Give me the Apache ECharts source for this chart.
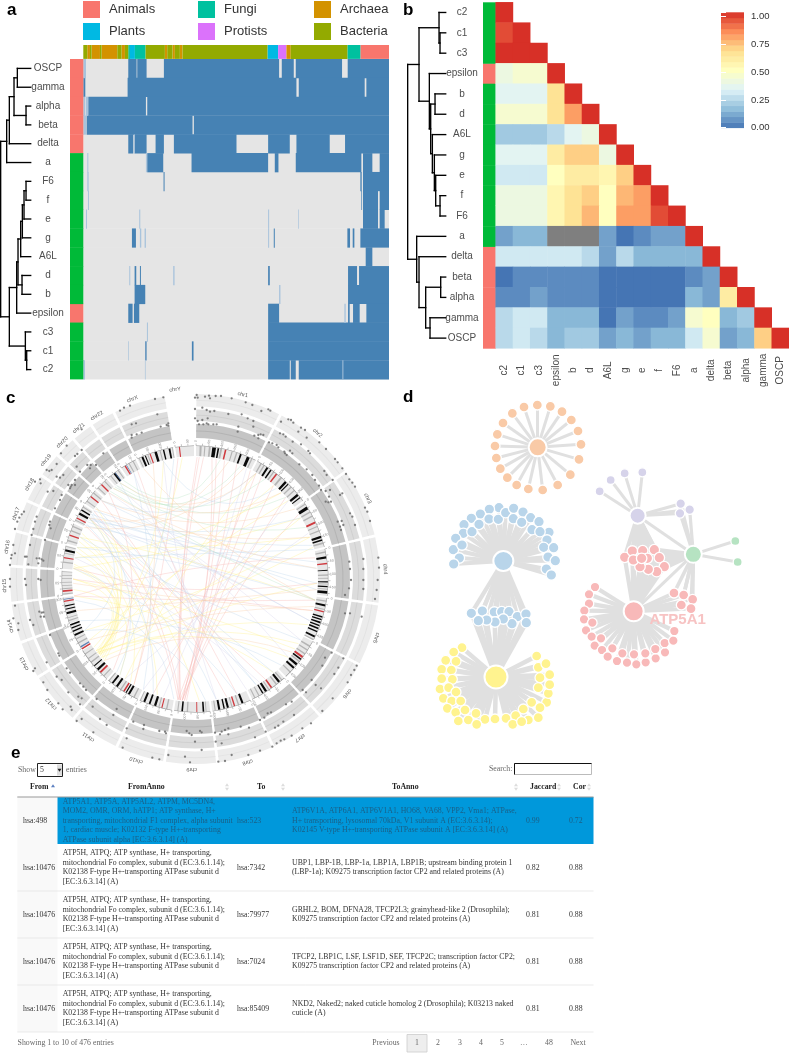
<!DOCTYPE html>
<html><head><meta charset="utf-8">
<style>html,body{margin:0;padding:0;background:#fff}#c{width:789px;height:1053px}</style>
<script src="https://cdn.jsdelivr.net/npm/echarts@6/dist/echarts.min.js"></script>
</head><body><div id="c"></div>
<script>
// ---------- panel a ----------
const taxa=['Animals','Plants','Fungi','Protists','Archaea','Bacteria'];
const taxaColors=['#F8766D','#00B9E3','#00C19F','#DB72FB','#D39200','#93AA00'];
const stripSegments=[[250,262,5],[262,270,4],[270,275,5],[275,300,4],[300,305,5],[305,352,4],[352,365,5],[365,375,4],[375,385,5],[385,390,2],[390,405,1],[405,437,2],[437,495,5],[495,502,4],[502,518,5],[518,525,4],[525,540,5],[540,548,4],[548,803,5],[803,835,1],[835,860,3],[860,873,4],[873,1043,5],[1043,1082,2],[1082,1168,0]];
const aRows=['OSCP','gamma','alpha','beta','delta','a','F6','f','e','g','A6L','d','b','epsilon','c3','c1','c2'];
const aRowGroup=[0,0,0,0,0,1,1,1,1,1,1,1,1,0,1,1,1];
const aPresent=[
[[385,410],[412,440],[492,838],[846,882],[888,1027],[1044,1168]],
[[250,256],[383,890],[897,1095],[1100,1168]],
[[265,438],[442,1168]],
[[260,578],[582,1168]],
[[385,400],[404,440],[467,492],[522,710],[805,870],[890,990],[1036,1168]],
[[442,490],[575,805],[825,836],[888,1085],[1090,1118],[1140,1168]],
[[491,494],[1082,1086],[1090,1168]],
[[1085,1087],[1090,1135],[1140,1168]],
[[1090,1135],[1140,1155]],
[[396,408],[822,825],[1043,1051],[1059,1064],[1082,1168]],
[[1098,1118]],
[[404,409],[420,423],[805,810],[1045,1072],[1078,1168]],
[[404,436],[1045,1168]],
[[385,398],[402,418],[805,838],[1045,1050],[1060,1080],[1100,1168]],
[[805,1168]],
[[436,440],[576,581],[805,1168]],
[[805,870],[873,888],[897,1168]]
];
const aFaint=[[0,250,258],[2,250,256],[2,258,264],[3,250,258],[4,402,404],[5,262,265],[5,438,441],[6,262,266],[7,264,267],[8,258,261],[8,418,421],[8,805,808],[8,895,897],[9,420,424],[9,434,438],[9,805,808],[11,388,391],[11,520,524],[12,838,842],[13,1034,1038],[14,441,444],[15,385,387],[16,250,255],[16,435,437],[16,1028,1031]];
const aTree=[2,[20,[28,[42,[52,0,1],[78,2,3]],4],5],[28,[50,[54,[62,[67,[72,[78,6,7],8],9],10],[66,11,12]],13],[76,14,[80,15,16]]]];
// ---------- panel b ----------
const bLabels=['c2','c1','c3','epsilon','b','d','A6L','g','e','f','F6','a','delta','beta','alpha','gamma','OSCP'];
const bGroup=[1,1,1,0,1,1,1,1,1,1,1,1,0,0,0,0,0];
const NA=-1;
const corrRows=[
[1],
[.93,1],
[.97,.97,1],
[.42,.44,.44,1],
[.38,.38,.38,.62,1],
[.45,.47,.47,.62,.78,1],
[.2,.2,.2,.28,.35,.42,1],
[.38,.38,.38,.6,.68,.7,.42,1],
[.33,.33,.33,.52,.58,.58,.55,.68,1],
[.4,.4,.4,.55,.62,.67,.52,.75,.78,1],
[.4,.4,.4,.55,.62,.72,.5,.78,.78,.92,1],
[.14,.17,.17,NA,NA,NA,.13,.03,.08,.1,.1,1],
[.32,.33,.3,.33,.33,.28,.13,.25,.17,.19,.19,.15,1],
[.04,.06,.06,.06,.07,.05,.01,.01,.03,.03,.03,.09,.1,1],
[.07,.08,.1,.05,.06,.06,.01,.01,.02,.03,.03,.15,.1,.58,1],
[.27,.3,.29,.17,.15,.15,.02,.12,.08,.09,.1,.45,.52,.17,.22,1],
[.26,.29,.26,.18,.2,.2,.1,.17,.14,.17,.17,.33,.45,.1,.15,.68,1]
];
const bTree=[38,[72,[132,0,[135,1,2]],[103,3,[107,[120,4,5],[112,6,[118,7,[122,8,[135,9,10]]]]]]],[65,11,[72,12,[92,[137,13,14],[105,15,16]]]]];
const groupColors=['#F8766D','#00BA38'];
const rampStops=['#4575B4','#91BFDB','#E0F3F8','#FFFFBF','#FEE090','#FC8D59','#D73027'];
// ---------- panel c ----------
const chrNames=['chr1','chr2','chr3','chr4','chr5','chr6','chr7','chr8','chr9','chr10','chr11','chr12','chr13','chr14','chr15','chr16','chr17','chr18','chr19','chr20','chr21','chr22','chrX','chrY'];
const chrBreaks=[0,27.5,54.5,76.5,97.8,117.5,137.5,155,173,189.5,205,221,238,250,262.5,274,285,295,304,312,319,326,334,351,360];
const chrLabelDeg=[14.5,40,65,87,108,127,146.6,164,181,198,214,229,243.6,255.7,268,279.7,290,299.7,308.5,315.8,322.4,329,340.8,354];
const bandBlack=[[7.5,1.6],[9.8,.7],[19.8,.8],[23,1.3],[32.6,.9],[34.5,.7],[42.6,1],[44.2,.5],[50.2,1],[52,.5],[57,1.4],[71,1],[72.6,.7],[80.2,.9],[86,.4],[91,.5],[93,.6],[95.2,1.2],[101,.9],[106.3,.6],[107.5,.6],[108.8,.7],[110.2,.6],[111.5,.7],[113,.6],[115.3,.8],[126.8,.7],[129.5,1],[131.5,.9],[140.2,1],[147.2,1],[149,.6],[158.6,.9],[165.2,.9],[167,.6],[169,.9],[176,.7],[185.2,.7],[197,1],[199.6,.8],[202,.9],[209.4,.9],[211,.5],[215.6,.9],[218,.8],[226.6,1],[229,.5],[244.6,.8],[246.5,.6],[248,.6],[249.4,.7],[254.6,.9],[256.6,.5],[258,.5],[282,.9],[299,1],[301,.6],[322.2,1],[336.2,.9],[337.8,.5],[342.2,1.1],[346,.6],[348.5,.8]];
const bandRed=[[13,.7],[37.5,.7],[64.4,.8],[83,.6],[104,.6],[125.5,.9],[144.5,.7],[162.4,.6],[179,.4],[194.2,.5],[212,.7],[225,.8],[238,.6],[260,.6],[264.4,.7],[279,.5],[289,.6],[297,.6],[308,.6],[315,.6],[328,.6],[340,.5],[353,.5]];
const bandBlue=[[239,.6],[261,.3],[328.8,.3],[322.9,.3]];
const bandGray=[[2,.9],[4,.5],[6,.8],[11,.8],[16,.5],[18,.6],[25,.6],[29.5,.6],[31,.6],[36,.6],[40,.8],[46,.6],[48,.6],[55.5,.5],[59.5,.6],[61.5,.6],[66.5,.5],[68.5,.6],[74,.7],[78,.6],[88,.6],[89.5,.4],[92,.4],[94.2,.4],[99.3,.6],[103,.5],[116.8,.6],[120,.7],[122,.6],[124,.6],[128,.6],[134,.6],[139,.6],[142,.6],[146,.5],[151,.5],[153,.5],[160.6,.6],[163.6,.5],[171,.5],[175,.4],[183,.6],[187.2,.5],[192,.6],[195.5,.5],[204,.4],[207,.6],[213.6,.6],[220,.5],[223,.5],[231,.6],[233,.5],[235.4,.5],[241,.6],[243,.5],[251.5,.5],[252.8,.4],[263.2,.5],[265.6,.4],[267,.3],[268.4,.3],[270,.3],[271.4,.3],[273,.3],[277,.6],[281,.4],[284,.4],[286.5,.7],[291,.6],[293,.6],[296,.4],[302.5,.5],[305.5,.5],[310,.6],[313,.5],[317,.5],[320.5,.5],[324.5,.5],[330,.5],[332,.5],[335,.4],[339,.4],[344.5,.5],[350,.4]];
// points read in crop units of the four quadrants of the circular plot
const ptsNE=[[5,30],[0,38],[8,38],[30,35],[42,32],[45,40],[62,33],[78,33],[110,40],[152,52],[172,60],[199,78],[220,73],[226,77],[22,68],[35,75],[45,80],[58,78],[100,87],[140,88],[158,100],[175,108],[0,72],[0,100],[8,108],[22,105],[38,100],[35,115],[12,118],[25,118],[40,118],[55,118],[65,118],[130,125],[128,140],[175,125],[190,150],[190,160],[197,148],[205,150],[178,152],[258,110],[280,103],[288,105],[295,113],[318,128],[310,140],[330,135],[373,172],[393,192],[420,222],[428,232],[442,250],[335,158],[255,145],[265,148],[272,155],[293,170],[318,178],[340,198],[285,197],[292,205],[270,205],[345,205],[388,258],[395,270],[413,285],[222,172],[232,175],[245,180],[250,187],[268,200],[275,210],[313,238],[335,253],[352,270],[360,285],[372,302],[453,267],[463,283],[472,293],[480,305],[510,368],[517,380],[525,408],[378,315],[392,318],[405,315],[402,335],[392,350],[400,352],[408,350],[435,330],[442,325],[465,385],[472,395],[480,420],[428,410],[440,408],[435,425],[438,435],[445,420],[550,518],[552,548],[505,522],[505,552],[463,530],[465,552]];
const ptsSE=[[468,15],[462,40],[450,60],[505,15],[505,42],[548,15],[545,45],[540,72],[450,115],[465,115],[500,125],[410,233],[390,248],[445,250],[382,272],[485,272],[478,285],[430,278],[418,297],[468,300],[458,322],[350,315],[362,330],[378,340],[323,345],[333,352],[413,370],[382,408],[290,380],[273,388],[297,420],[265,440],[250,452],[240,458],[228,412],[218,415],[208,428],[195,435],[212,470],[348,445],[322,460],[290,482],[268,493],[257,497],[245,505],[232,515],[90,465],[80,470],[60,473],[100,478],[75,478],[100,460],[137,455],[162,458],[180,487],[62,500],[80,505],[110,540],[90,558],[70,560],[195,527],[160,540],[15,468],[20,472],[0,500],[20,525]];
const ptsSW=[[30,12],[30,35],[75,12],[78,30],[115,12],[122,15],[45,92],[40,130],[55,145],[55,165],[90,135],[100,150],[118,110],[130,112],[122,125],[132,125],[125,113],[150,180],[175,235],[178,242],[140,262],[105,280],[100,288],[200,280],[210,293],[170,305],[185,315],[130,322],[142,345],[175,385],[188,403],[240,325],[250,335],[258,345],[205,352],[235,365],[245,370],[212,395],[215,405],[240,388],[230,438],[245,432],[290,372],[278,395],[350,402],[300,432],[320,450],[280,472],[368,518],[340,420],[400,440],[432,450],[380,460],[430,462],[478,468],[495,470],[498,475],[380,490],[457,548],[478,553],[560,468],[568,475],[575,480],[505,540],[555,545],[570,562]];
const ptsNW=[[465,42],[490,37],[360,77],[372,68],[390,62],[395,118],[408,115],[472,88],[505,115],[500,120],[482,125],[395,150],[395,158],[410,148],[425,143],[505,122],[245,133],[232,207],[245,195],[230,245],[262,240],[272,240],[288,240],[270,250],[310,205],[200,182],[183,205],[225,213],[205,300],[210,310],[225,285],[225,300],[215,300],[240,260],[170,237],[140,255],[148,258],[155,255],[170,275],[180,278],[190,270],[212,305],[105,290],[120,283],[122,295],[143,320],[160,318],[185,330],[180,345],[165,370],[72,380],[65,388],[58,398],[52,410],[45,432],[110,395],[105,410],[100,432],[150,410],[148,420],[152,430],[135,465],[40,480],[35,510],[33,520],[45,505],[95,450],[90,480],[80,515],[75,515],[85,538],[110,520],[118,520],[125,523],[115,535],[130,527],[30,540]];
// chords: start angle, end angle, module
const chordColors=['#f6b3b0','#fff08a','#bcd6ea','#b5e2c0','#f8cda6','#d6d3ea'];
const chordList=[[187,1,0],[187,4,0],[186,10,0],[186,14,0],[185,20,0],[185,27,0],[188,33,0],[187,40,0],[186,48,0],[188,296,0],[187,304,0],[186,58,0],[184,8,0],[188,2,0],[160,332,0],[145,300,0],[165,310,0],[200,30,0],[210,352,0],[222,315,0],[262,100,0],[275,105,0],[262,80,0],[270,92,0],
[232,354,1],[232,345,1],[233,306,1],[231,276,1],[234,60,1],[232,92,1],[230,112,1],[233,122,1],[228,277,1],[230,283,1],[232,292,1],[234,270,1],[236,265,1],[231,300,1],[233,130,1],[234,75,1],[229,288,1],[233,40,1],[218,275,1],[212,285,1],[198,290,1],[178,300,1],[140,262,1],[125,270,1],[100,290,1],[60,275,1],[45,280,1],[70,285,1],[215,30,1],[240,50,1],[245,70,1],
[300,82,2],[302,92,2],[298,110,2],[301,140,2],[303,170,2],[297,200,2],[304,74,2],[299,60,2],[302,218,2],[306,150,2],[310,95,2],[296,85,2],[290,120,2],[285,100,2],[280,76,2],[275,160,2],[260,190,2],[250,135,2],[245,175,2],[310,30,2],[345,42,2],[350,220,2],[322,150,2],[330,205,2],[300,245,2],
[318,22,3],[320,35,3],[322,48,3],[319,65,3],[324,12,3],[316,100,3],
[322,30,4],[318,45,4],[310,55,4],[335,100,4],[305,70,4],[300,16,4],[315,85,4],[295,24,4],[340,210,4],[268,105,4],[255,95,4],[240,103,4],[228,127,4],
[25,195,5],[50,205,5],[68,215,5],[110,300,5],[120,315,5],[130,320,5],[155,330,5],[148,280,5],[170,345,5]];
// ---------- panel d: nodes in crop units ----------
const orangeHub=[413,187];
const orangeLeaves=[[412,60],[451,64],[486,80],[514,105],[534,138],[543,178],[537,223],[511,269],[473,300],[428,315],[385,312],[350,300],[322,278],[301,251],[289,219],[285,183],[292,148],[309,114],[337,85],[372,66]];
const blueHub=[310,528];
const blueLeaves=[[297,368],[268,373],[241,387],[214,400],[192,419],[190,445],[167,460],[160,494],[186,480],[178,519],[161,537],[216,440],[237,418],[267,402],[295,403],[317,383],[341,370],[369,381],[340,401],[392,398],[417,410],[365,412],[396,434],[447,442],[420,440],[441,465],[431,487],[461,488],[444,516],[466,527],[439,552],[454,570]];
const blueShared=[[214,685],[247,678],[283,681],[305,680],[327,680],[352,695],[378,687],[379,713],[336,716],[310,702],[285,711],[260,705],[235,707]];
const yellowHub=[288,876];
const yellowLeaves=[[186,788],[161,801],[137,826],[168,829],[125,853],[154,855],[125,881],[157,883],[120,912],[146,908],[168,921],[130,940],[155,948],[182,948],[142,970],[167,982],[195,975],[175,1008],[205,1005],[228,985],[255,1003],[285,1002],[318,1000],[347,992],[370,972],[395,952],[415,998],[385,1005],[440,952],[420,968],[445,925],[415,908],[449,899],[420,878],[449,869],[415,847],[438,836],[410,813],[230,1018],[338,1018],[365,1010]];
const purpleHub=[713,392];
const purpleLeaves=[[599,319],[632,285],[674,265],[727,262]];
const purpleShared=[[842,356],[869,374],[840,385]];
const greenHub=[880,508];
const greenLeaves=[[1006,468],[1013,531]];
const redHub=[701,679];
const redMiddle=[[674,517],[697,498],[728,497],[763,494],[778,518],[793,545],[770,560],[742,520],[745,553],[720,545],[700,525],[725,520]];
const redRight=[[822,624],[851,630],[878,643],[844,660],[873,671]];
const redLeaves=[[585,606],[567,628],[567,656],[553,677],[552,703],[577,713],[558,736],[575,755],[603,760],[584,782],[606,795],[637,790],[623,815],[651,828],[667,805],[681,833],[702,808],[709,838],[737,832],[736,805],[767,820],[766,792],[795,802],[794,774],[820,767],[823,738]];
// ---------- panel e ----------
const tableHead=['From','FromAnno','To','ToAnno','Jaccard','Cor'];
const tableRows=[
{from:'hsa:498',fromAnno:['ATP5A1, ATP5A, ATP5AL2, ATPM, MC5DN4,','MOM2, OMR, ORM, hATP1; ATP synthase, H+','transporting, mitochondrial F1 complex, alpha subunit','1, cardiac muscle; K02132 F-type H+-transporting','ATPase subunit alpha [EC:3.6.3.14] (A)'],to:'hsa:523',toAnno:['ATP6V1A, ATP6A1, ATP6V1A1, HO68, VA68, VPP2, Vma1; ATPase,','H+ transporting, lysosomal 70kDa, V1 subunit A (EC:3.6.3.14);','K02145 V-type H+-transporting ATPase subunit A [EC:3.6.3.14] (A)'],jac:'0.99',cor:'0.72'},
{from:'hsa:10476',fromAnno:['ATP5H, ATPQ; ATP synthase, H+ transporting,','mitochondrial Fo complex, subunit d (EC:3.6.1.14);','K02138 F-type H+-transporting ATPase subunit d','[EC:3.6.3.14] (A)'],to:'hsa:7342',toAnno:['UBP1, LBP-1B, LBP-1a, LBP1A, LBP1B; upstream binding protein 1','(LBP-1a); K09275 transcription factor CP2 and related proteins (A)'],jac:'0.82',cor:'0.88'},
{from:'hsa:10476',fromAnno:['ATP5H, ATPQ; ATP synthase, H+ transporting,','mitochondrial Fo complex, subunit d (EC:3.6.1.14);','K02138 F-type H+-transporting ATPase subunit d','[EC:3.6.3.14] (A)'],to:'hsa:79977',toAnno:['GRHL2, BOM, DFNA28, TFCP2L3; grainyhead-like 2 (Drosophila);','K09275 transcription factor CP2 and related proteins (A)'],jac:'0.81',cor:'0.88'},
{from:'hsa:10476',fromAnno:['ATP5H, ATPQ; ATP synthase, H+ transporting,','mitochondrial Fo complex, subunit d (EC:3.6.1.14);','K02138 F-type H+-transporting ATPase subunit d','[EC:3.6.3.14] (A)'],to:'hsa:7024',toAnno:['TFCP2, LBP1C, LSF, LSF1D, SEF, TFCP2C; transcription factor CP2;','K09275 transcription factor CP2 and related proteins (A)'],jac:'0.81',cor:'0.88'},
{from:'hsa:10476',fromAnno:['ATP5H, ATPQ; ATP synthase, H+ transporting,','mitochondrial Fo complex, subunit d (EC:3.6.1.14);','K02138 F-type H+-transporting ATPase subunit d','[EC:3.6.3.14] (A)'],to:'hsa:85409',toAnno:['NKD2, Naked2; naked cuticle homolog 2 (Drosophila); K03213 naked','cuticle (A)'],jac:'0.81',cor:'0.88'}
];
const pagerLabels=['Previous','1','2','3','4','5','…','48','Next'];

// ---------- helpers ----------
const SANS='"Liberation Sans",Arial,sans-serif', SERIF='"Liberation Serif","Times New Roman",serif';
const chart=echarts.init(document.getElementById('c'),null,{renderer:'canvas'});
const grids=[],xAxes=[],yAxes=[],series=[];
function addGrid(g,x,y){const i=grids.length;grids.push(Object.assign({containLabel:false},g));
  xAxes.push(Object.assign({gridIndex:i,show:false,type:'value'},x));
  yAxes.push(Object.assign({gridIndex:i,show:false,type:'value'},y));return i;}
const hiddenCat=d=>({type:'category',data:d,inverse:true,show:false});
function runRender(color){return (p,api)=>{
  const a=api.coord([api.value(1),api.value(0)]),b=api.coord([api.value(2),api.value(0)]),h=api.size([0,1])[1];
  return {type:'rect',shape:{x:a[0],y:a[1]-h/2,width:b[0]-a[0],height:h+.4},style:{fill:color}};};}
function runSeries(gi,data,color,name,z){return {type:'custom',name,xAxisIndex:gi,yAxisIndex:gi,data,silent:true,z:z||2,
  encode:{x:[1,2],y:0},renderItem:runRender(color),itemStyle:{color},animation:false};}
function treeSegments(node,leafH,out){
  if(typeof node==='number')return {y:node,h:leafH};
  const l=treeSegments(node[1],leafH,out),r=treeSegments(node[2],leafH,out),h=node[0];
  out.push([h,l.y,h,r.y],[h,l.y,l.h,l.y],[h,r.y,r.h,r.y]);
  return {y:(l.y+r.y)/2,h};
}
function lineRender(color,w){return (p,api)=>{
  const a=api.coord([api.value(0),api.value(1)]),b=api.coord([api.value(2),api.value(3)]);
  return {type:'line',shape:{x1:a[0],y1:a[1],x2:b[0],y2:b[1]},style:{stroke:color,lineWidth:w,lineCap:'square'}};};}
function dendro(gi,tree,leafH){const s=[];treeSegments(tree,leafH,s);
  series.push({type:'custom',xAxisIndex:gi,yAxisIndex:gi,data:s,silent:true,encode:{x:[0,2],y:[1,3]},renderItem:lineRender('#000',1.35)});}

// ---------- panel a grids ----------
const gA=addGrid({left:70,top:59,width:319,height:320},{min:210,max:1168},
 {type:'category',data:aRows,inverse:true,show:true,axisLine:{show:false},axisTick:{show:false},
  axisLabel:{align:'center',margin:22,fontSize:10,fontFamily:SANS,color:'#4d4d4d'}});
series.push(runSeries(gA,aRows.map((_,i)=>[i,250,1168]),'#E5E5E5','bg',1));
series.push(runSeries(gA,aRows.flatMap((_,i)=>aPresent[i].map(r=>[i,r[0],r[1]])),'#4682B4','present',3));
series.push(runSeries(gA,aFaint,'#a8c3dc','faint',4));
groupColors.forEach((c,k)=>series.push(runSeries(gA,aRows.map((_,i)=>[i,210,250,aRowGroup[i]]).filter(d=>d[3]===k),c,'grp'+k,5)));
const gStrip=addGrid({left:83.3,top:45,width:305.7,height:13.5},{min:250,max:1168},hiddenCat(['taxon']));
taxa.forEach((t,k)=>series.push(runSeries(gStrip,stripSegments.filter(s=>s[2]===k).map(s=>[0,s[0],s[1]]),taxaColors[k],t,2)));
const gDA=addGrid({left:0,top:59,width:30.7,height:320},{min:0,max:92},{min:-.5,max:16.5,inverse:true});
dendro(gDA,aTree,92);

// ---------- panel b grids ----------
const bTop=2.3,bH=346;
const gBS=addGrid({left:483,top:bTop,width:12.9,height:bH},{min:0,max:1},
 {type:'category',data:bLabels,inverse:true,show:true,axisLine:{show:false},axisTick:{show:false},
  axisLabel:{align:'center',margin:21,fontSize:10,fontFamily:SANS,color:'#4d4d4d'}});
groupColors.forEach((c,k)=>series.push(runSeries(gBS,bLabels.map((_,i)=>[i,0,1,bGroup[i]]).filter(d=>d[3]===k),c,'bgrp'+k,2)));
const gBM=addGrid({left:495.7,top:bTop,width:293.3,height:bH},
 {type:'category',data:bLabels,show:true,axisLine:{show:false},axisTick:{show:false},
  axisLabel:{rotate:90,align:'center',verticalAlign:'middle',margin:22,fontSize:10,fontFamily:SANS,color:'#4d4d4d',interval:0}},
 hiddenCat(bLabels));
series.push({type:'heatmap',xAxisIndex:gBM,yAxisIndex:gBM,silent:true,progressive:0,
  data:corrRows.flatMap((row,y)=>row.map((v,x)=>[x,y,v])),itemStyle:{borderWidth:0}});
const heatIdx=series.length-1;
const gDB=addGrid({left:395,top:bTop,width:50.7,height:bH},{min:0,max:152},{min:-.5,max:16.5,inverse:true});
dendro(gDB,bTree,152);
// colour bar
const barTicks=side=>({type:'value',show:true,z:10,min:0,max:1.04,interval:.25,position:side,axisLine:{show:false},splitLine:{show:false},
  axisTick:{show:true,inside:true,length:5,lineStyle:{color:'#fff',width:1}},
  axisLabel:side==='right'?{showMaxLabel:false,margin:7,fontSize:9.5,fontFamily:SANS,color:'#333',formatter:v=>v.toFixed(2)}:{show:false}});
const gCB=addGrid({left:721,top:12.3,width:23,height:115.4},{min:0,max:1},barTicks('right'));
addGrid({left:721,top:12.3,width:23,height:115.4},{min:0,max:1},barTicks('left'));
const barBins=[];for(let i=0;i<21;i++)barBins.push([i*1.04/21,(i+1)*1.04/21]);
series.push({type:'custom',xAxisIndex:gCB,yAxisIndex:gCB,data:barBins,silent:true,encode:{y:[0,1]},z:2,
  renderItem:(p,api)=>{const a=api.coord([0,api.value(0)]),b=api.coord([1,api.value(1)]);
   const c=echarts.color.lerp(Math.min(1,(p.dataIndex+.5)/21),rampStops);
   return {type:'rect',shape:{x:a[0],y:b[1],width:b[0]-a[0],height:a[1]-b[1]+.4},style:{fill:c}};}});

// ---------- panel c ----------
const polar={center:[195,579],radius:192};
const angleAxis={type:'value',min:0,max:360,startAngle:90,clockwise:true,show:false};
const radiusAxis={type:'value',min:0,max:192,show:false};
function sectorOf(api,r0,r1,a0,a1,style){
  const c=api.coord([0,0]),p0=api.coord([r1,a0]),p1=api.coord([r1,a1]);
  return {type:'sector',shape:{cx:c[0],cy:c[1],r0:r0,r:r1,startAngle:Math.atan2(p0[1]-c[1],p0[0]-c[0]),endAngle:Math.atan2(p1[1]-c[1],p1[0]-c[0]),clockwise:true},style};
}
function ringSeries(data,color,z){return {type:'custom',coordinateSystem:'polar',polarIndex:0,data,silent:true,z:z||2,
  encode:{radius:[0,1],angle:[2,3]},renderItem:(p,api)=>sectorOf(api,api.value(0),api.value(1),api.value(2),api.value(3),{fill:color})};}
const chrSpans=chrNames.map((n,i)=>[chrBreaks[i]+.45,chrBreaks[i+1]-.45]);
const tracks=[[141,155,'#c4c4c4','#b4b4b4'],[158,169.5,'#dcdcdc','#d0d0d0'],[172.5,185,'#ececec','#e3e3e3']];
tracks.forEach(t=>{
  const s=chrSpans.slice(0,23);
  series.push(ringSeries(s.map(a=>[t[0],t[1],a[0],a[1]]),t[2],1));
  const m=(t[0]+t[1])/2;
  series.push(ringSeries(s.map(a=>[m-.5,m+.5,a[0],a[1]]),t[3],2));
});
series.push(ringSeries(chrSpans.map(a=>[123,133,a[0],a[1]]),'#e8e8e8',2));
const bandSeries=(list,color,z)=>ringSeries(list.map(b=>[123,133,b[0],b[0]+b[1]]),color,z);
series.push(bandSeries(bandGray,'#b5b5b5',3),bandSeries(bandBlack,'#0a0a0a',4),bandSeries(bandRed,'#cf3a3f',5),bandSeries(bandBlue,'#5b7fb5',5));
series.push(ringSeries(chrSpans.map(a=>[133,133.5,a[0],a[1]]),'#888',5));
const scaleTicks=[],scaleLabels=[];
chrSpans.forEach(a=>{
  for(let d=a[0];d<=a[1];d+=2.75)scaleTicks.push([133.5,135.5,d,d]);
  for(let n=0;a[0]+n*5.5<=a[1];n++)scaleLabels.push([138,a[0]+n*5.5,n*50]);
});
series.push({type:'custom',coordinateSystem:'polar',polarIndex:0,data:scaleTicks,silent:true,z:5,encode:{radius:[0,1],angle:[2,3]},
  renderItem:(p,api)=>{const a=api.coord([api.value(0),api.value(2)]),b=api.coord([api.value(1),api.value(3)]);
   return {type:'line',shape:{x1:a[0],y1:a[1],x2:b[0],y2:b[1]},style:{stroke:'#888',lineWidth:.5}};}});
series.push({type:'custom',coordinateSystem:'polar',polarIndex:0,data:scaleLabels,silent:true,z:5,encode:{radius:0,angle:1},
  renderItem:(p,api)=>{const c=api.coord([api.value(0),api.value(1)]);
   return {type:'text',x:c[0],y:c[1],rotation:(90-api.value(1))*Math.PI/180,
    style:{text:String(api.value(2)),align:'center',verticalAlign:'middle',font:'3.5px '+SANS,fill:'#888'}};}});
series.push({type:'custom',coordinateSystem:'polar',polarIndex:0,data:chrNames.map((n,i)=>[190.5,chrLabelDeg[i],n]),silent:true,z:6,
  encode:{radius:0,angle:1},
  renderItem:(p,api)=>{const c=api.coord([api.value(0),api.value(1)]);
   return {type:'text',x:c[0],y:c[1],rotation:-api.value(1)*Math.PI/180,
    style:{text:chrNames[p.dataIndex],align:'center',verticalAlign:'middle',font:'5.5px '+SANS,fill:'#555'}};}});
series.push({type:'custom',coordinateSystem:'polar',polarIndex:0,data:chordList,silent:true,z:2,encode:{angle:[0,1]},
  renderItem:(p,api)=>{const a0=api.value(0),a1=api.value(1),k=api.value(2);
   let mid=(a0+a1)/2;if(Math.abs(a0-a1)>180)mid=(mid+180)%360;
   const sep=Math.min(Math.abs(a0-a1),360-Math.abs(a0-a1));
   const A=api.coord([122,a0]),B=api.coord([122,a1]),C=api.coord([122*(.55-.4*sep/180),mid]);
   return {type:'bezierCurve',shape:{x1:A[0],y1:A[1],x2:B[0],y2:B[1],cpx1:C[0],cpy1:C[1]},
     style:{stroke:chordColors[k],lineWidth:.6,fill:null,opacity:.6}};}});
const gPts=addGrid({left:0,top:385,width:400,height:390},{min:0,max:400},{min:385,max:775,inverse:true});
const toPx=(list,ox,oy)=>list.map(p=>[ox+p[0]/3,oy+p[1]/3]);
series.push({type:'scatter',xAxisIndex:gPts,yAxisIndex:gPts,silent:true,symbolSize:2.3,z:6,
  itemStyle:{color:'#6b6b6b',opacity:.85},
  data:[...toPx(ptsNE,195,385),...toPx(ptsSE,195,575),...toPx(ptsSW,0,575),...toPx(ptsNW,0,385)]});

// ---------- panel d ----------
const gNet=addGrid({left:400,top:385,width:389,height:340},{min:0,max:1167},{min:0,max:1020,inverse:true});
const nodes=[],links=[];
function addNodes(list,color,size){return list.map(p=>{nodes.push({value:p,symbolSize:size,itemStyle:{color,borderColor:'#fff',borderWidth:size>12?2:1.3}});return nodes.length-1;});}
function connect(hubs,leaves,width){hubs.forEach(h=>leaves.forEach(l=>links.push({source:h,target:l,lineStyle:{width}})));}
const [hOr]=addNodes([orangeHub],'#f9caa7',18), nOr=addNodes(orangeLeaves,'#f9caa7',10);
const [hBl]=addNodes([blueHub],'#b9d5ea',20), nBl=addNodes(blueLeaves,'#b9d5ea',10.5), nBs=addNodes(blueShared,'#b9d5ea',10.5);
const [hYe]=addNodes([yellowHub],'#fff38f',23), nYe=addNodes(yellowLeaves,'#fff38f',10);
const [hPu]=addNodes([purpleHub],'#d6d3ea',16), nPu=addNodes(purpleLeaves,'#d6d3ea',9), nPs=addNodes(purpleShared,'#d6d3ea',9.5);
const [hGr]=addNodes([greenHub],'#b6e3c2',17), nGr=addNodes(greenLeaves,'#b6e3c2',9);
const [hRe]=addNodes([redHub],'#f8b9b9',20), nRm=addNodes(redMiddle,'#f8b9b9',10.5), nRr=addNodes(redRight,'#f8b9b9',10), nRe=addNodes(redLeaves,'#f8b9b9',9.5);
connect([hOr],nOr,3);connect([hBl],nBl,4.2);connect([hBl,hYe],nBs,4.2);connect([hYe],nYe,4.5);connect([hPu],nPu,3);connect([hPu,hGr],nPs,3.2);
connect([hGr],nGr,3);connect([hPu,hGr,hRe],nRm,4.2);connect([hRe,hGr],nRr,3.6);connect([hRe],nRe,4.2);
links.push({source:hPu,target:hGr,lineStyle:{width:3}},{source:hRe,target:hGr,lineStyle:{width:3}});
nodes[hRe].label={show:true,formatter:'ATP5A1',position:'inside',offset:[44,9],fontSize:15,fontWeight:'bold',fontFamily:SANS,color:'#f7c3c3'};
series.push({type:'graph',coordinateSystem:'cartesian2d',xAxisIndex:gNet,yAxisIndex:gNet,layout:'none',silent:true,z:3,
  data:nodes,links,lineStyle:{color:'#e0e0e0',width:3.4,opacity:1,curveness:0},label:{show:false}});

// ---------- panel e and panel letters ----------
const g=[];
const BODY='7.8px '+SERIF;
const txt=(x,y,text,o)=>g.push({type:'text',x,y,silent:true,z:20,style:Object.assign({text,font:BODY,fill:'#333',verticalAlign:'middle',align:'left'},o||{})});
const box=(x,y,w,h,o)=>g.push({type:'rect',silent:true,z:15,shape:{x,y,width:w,height:h},style:o});
const tri=(x,y,up,fill)=>g.push({type:'polygon',silent:true,z:18,shape:{points:up?[[x-2,y+1.3],[x+2,y+1.3],[x,y-1.7]]:[[x-2,y-1.3],[x+2,y-1.3],[x,y+1.7]]},style:{fill}});
[['a',7,10],['b',403,10],['c',6,398],['d',403,397],['e',11,753]].forEach(l=>txt(l[1],l[2],l[0],{font:'bold 17px '+SANS,fill:'#000'}));
txt(18,770,'Show',{fill:'#666'});txt(66,770,'entries',{fill:'#666'});txt(489,769,'Search:',{fill:'#666'});
box(37.5,763.5,25,13,{fill:'#fff',stroke:'#222',lineWidth:1});box(57,764.5,5,11,{fill:'#ddd'});tri(59.5,770,false,'#222');txt(40,770,'5',{fill:'#333'});
box(514.5,763.5,77,11,{fill:'#fff',stroke:'#bbb',lineWidth:1});
g.push({type:'polyline',silent:true,z:16,shape:{points:[[514.5,774.5],[514.5,763.5],[591.5,763.5]]},style:{stroke:'#111',lineWidth:1,fill:null}});
const hY=787;
[[30,tableHead[0]],[128,tableHead[1]],[257,tableHead[2]],[392,tableHead[3]],[530,tableHead[4]],[573,tableHead[5]]].forEach(h=>txt(h[0],hY,h[1],{font:'bold 7.8px '+SERIF,fill:'#222'}));
tri(53,hY-1,true,'#5b7fc0');
[227,283,516,559,589].forEach(x=>{tri(x,hY-2,true,'#ddd');tri(x,hY+2,false,'#ddd');});
const rowTops=[797,844,891,938,985,1032], cols=[23,62.7,237,292,526,569];
tableRows.forEach((r,i)=>{
  const t=rowTops[i],b=rowTops[i+1],mid=(t+b)/2,hi=i===0;
  box(17.3,t,40.2,b-t,{fill:'#f9f9f9'});
  if(hi)box(57.5,t,536,b-t,{fill:'#0098DB'});
  else g.push({type:'line',silent:true,z:16,shape:{x1:17.3,y1:b,x2:593.5,y2:b},style:{stroke:'#e6e6e6',lineWidth:.8}});
  const fc=hi?'#1a5f86':'#333';
  txt(cols[0],mid,r.from,{fill:'#333'});
  txt(cols[2],mid,r.to,{fill:fc});
  txt(cols[4],mid,r.jac,{fill:fc});txt(cols[5],mid,r.cor,{fill:fc});
  r.fromAnno.forEach((s,k)=>txt(cols[1],mid+(k-(r.fromAnno.length-1)/2)*9.5,s,{fill:fc}));
  r.toAnno.forEach((s,k)=>txt(cols[3],mid+(k-(r.toAnno.length-1)/2)*9.5,s,{fill:fc}));
});
g.push({type:'line',silent:true,z:17,shape:{x1:17.3,y1:797,x2:593.5,y2:797},style:{stroke:'#999',lineWidth:1.2}});
txt(17.6,1043,'Showing 1 to 10 of 476 entries',{fill:'#666'});
box(407,1034.5,20,17.5,{fill:'#eee',stroke:'#ccc',lineWidth:.8});
[386,417,438,460,481,502,524,549,578].forEach((x,i)=>txt(x,1043,pagerLabels[i],{align:'center',fill:'#666'}));

// ---------- legend: three columns of two ----------
const legends=[[83,[0,1]],[198,[2,3]],[314,[4,5]]].map(c=>({left:c[0],top:1,orient:'vertical',itemWidth:17,itemHeight:17,itemGap:5,icon:'rect',selectedMode:false,padding:0,
  data:c[1].map(k=>taxa[k]),textStyle:{fontSize:13,fontFamily:SANS,color:'#333',padding:[0,0,0,4]}}));

chart.setOption({
  animation:false,backgroundColor:'#fff',
  legend:legends,grid:grids,xAxis:xAxes,yAxis:yAxes,polar,angleAxis,radiusAxis,series,graphic:{elements:g},
  visualMap:[{type:'piecewise',show:false,min:0,max:1,splitNumber:21,precision:3,seriesIndex:heatIdx,dimension:2,inRange:{color:rampStops},outOfRange:{color:'#7f7f7f'}}]
});
</script></body></html>
